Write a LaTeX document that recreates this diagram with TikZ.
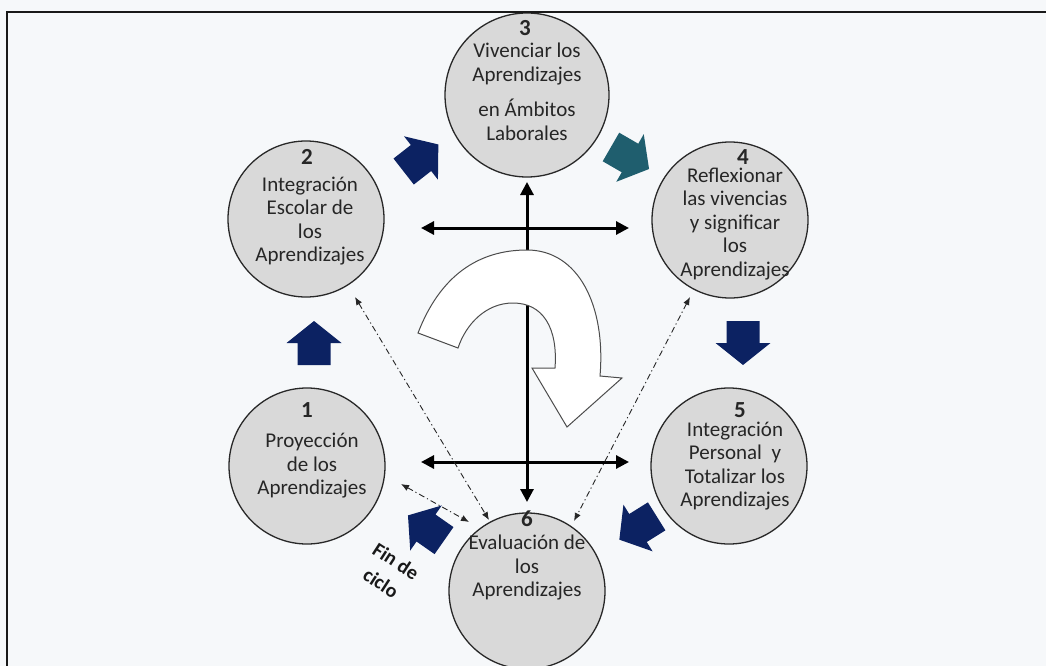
\documentclass[tikz,border=0pt]{standalone}
\usepackage{fontspec}
\setmainfont{Carlito}
\usetikzlibrary{arrows.meta}

\definecolor{paper}{RGB}{246,248,250}
\definecolor{disc}{RGB}{217,217,217}
\definecolor{rim}{RGB}{40,40,40}
\definecolor{navyarrow}{RGB}{12,34,98}
\definecolor{tealarrow}{RGB}{31,94,110}

\tikzset{
  stage/.style={circle, draw=rim, line width=1.3pt, fill=disc,
    minimum size=156pt, inner sep=0pt},
  stagenum/.style={font=\fontsize{23}{24}\selectfont\bfseries, text=black!85, inner sep=0pt},
  stagetext/.style={font=\fontsize{21}{23.5}\selectfont, text=black!85,
    align=center, inner sep=0pt},
  crossarrow/.style={line width=3pt, black,
    {Triangle[length=13pt,width=13pt]}-{Triangle[length=13pt,width=13pt]}},
  linkarrow/.style={line width=0.9pt, black!85,
    dash pattern=on 6pt off 3pt on 1.2pt off 3pt,
    {Latex[length=8pt,width=6.5pt]}-{Latex[length=8pt,width=6.5pt]}},
  pics/blockarrow/.style={code={
    \fill[#1] (-22,-16.5) -- (0,-16.5) -- (0,-27.5) -- (22,0) -- (0,27.5)
      -- (0,16.5) -- (-22,16.5) -- cycle;}},
  finlabel/.style={font=\fontsize{20}{22}\selectfont\bfseries,
    inner sep=0pt, text=black!90}
}

\begin{document}
\begin{tikzpicture}[x=1pt,y=-1pt]
\useasboundingbox (0,0) rectangle (1046,666);
\fill[paper] (0,0) rectangle (1046,666);

% the six stages of the cycle
\node[stage] (c1) at (307,466) {};
\node[stage] (c2) at (306,219) {};
\node[stage, minimum size=164pt] (c3) at (527,95) {};
\node[stage] (c4) at (730,220) {};
\node[stage] (c5) at (729,466) {};
\node[stage] (c6) at (527,591) {};

\draw[line width=2pt, black!90] (7,666) -- (7,12) -- (1046,12);

% central cross
\coordinate (uL) at (421,228);
\coordinate (uR) at (629,228);
\coordinate (lL) at (421,462);
\coordinate (lR) at (629,462);
\coordinate (vT) at (527,182);
\coordinate (vB) at (527,502);
\draw[crossarrow] (uL) -- (uR);
\draw[crossarrow] (lL) -- (lR);
\draw[crossarrow] (vB) -- (vT);

% big curved white arrow
\filldraw[fill=white, draw=black!70, line width=1pt]
  (418,333) .. controls (440,276) and (478,250) .. (527,250)
  .. controls (578,250) and (606,305) .. (600,376)
  -- (622,378) -- (567,427) -- (532,368) -- (555,368)
  .. controls (558,328) and (543,303) .. (513,303)
  .. controls (486,303) and (466,324) .. (458,348) -- cycle;

% dash-dot links
\coordinate (d2a) at (355,297);
\coordinate (d2b) at (489,520);
\coordinate (d4a) at (690,297);
\coordinate (d4b) at (574,521);
\coordinate (d1a) at (401,484);
\coordinate (d1b) at (469,522);
\draw[linkarrow] (d2a) -- (d2b);
\draw[linkarrow] (d4a) -- (d4b);
\draw[linkarrow] (d1a) -- (d1b);

% block arrows between stages
\pic[rotate=90]   at (314,343) {blockarrow=navyarrow};
\pic[rotate=38]   at (421,158) {blockarrow=navyarrow};
\pic[rotate=-30]  at (630,158) {blockarrow=tealarrow};
\pic[rotate=-90]  at (743,343) {blockarrow=navyarrow};
\pic[rotate=-148] at (638,528) {blockarrow=navyarrow};
\pic[rotate=145]  at (426,528) {blockarrow=navyarrow};

% end-of-cycle note, two slanted lines
\node[finlabel, rotate=-33] (fin1) at (396,561) {Fin de};
\node[finlabel, rotate=-33] (fin2) at (381,583) {ciclo};

% stage labels
\node[stagenum] (n1) at (307,410) {1};
\node[stagetext] (t1) at (312,466) {Proyección\\de los\\Aprendizajes};

\node[stagenum] (n2) at (307,157) {2};
\node[stagetext] (t2) at (310,221) {Integración\\Escolar de\\los\\Aprendizajes};

\node[stagenum] (n3) at (525,28) {3};
\node[stagetext] (t3a) at (527,64) {Vivenciar los\\Aprendizajes};
\node[stagetext] (t3b) at (527,120) {en Ámbitos\\Laborales};

\node[stagenum] (n4) at (743,157) {4};
\node[stagetext] (t4) at (735,224) {Reflexionar\\las vivencias\\y significar\\los\\Aprendizajes};

\node[stagenum] (n5) at (740,410) {5};
\node[stagetext] (t5) at (735,466) {Integración\\Personal\ \ y\\Totalizar los\\Aprendizajes};

\node[stagenum] (n6) at (527,519) {6};
\node[stagetext] (t6) at (527,568) {Evaluación de\\los\\Aprendizajes};
\end{tikzpicture}
\end{document}
